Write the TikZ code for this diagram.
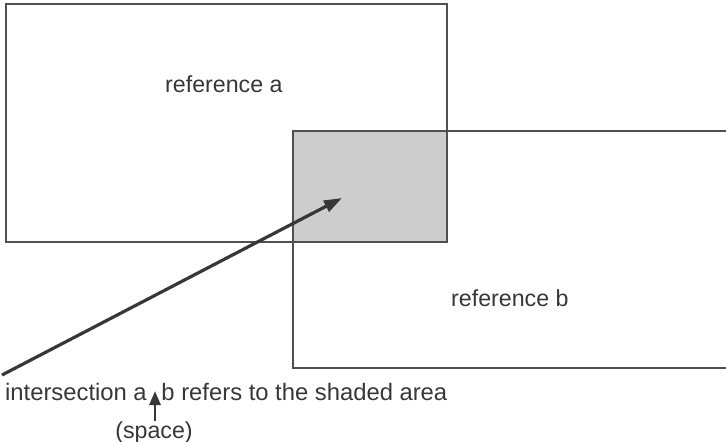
\documentclass[tikz,border=0pt]{standalone}
\usepackage{fontspec}
\setmainfont{Liberation Sans}
\usetikzlibrary{arrows.meta,positioning,calc}
\definecolor{edgegray}{RGB}{80,80,80}
\definecolor{shadegray}{RGB}{205,205,205}
\definecolor{inkgray}{RGB}{55,55,55}
\tikzset{
  setbox/.style={draw=edgegray,line width=1.3pt},
  tagtext/.style={font=\fontsize{23.2}{27}\selectfont,text=inkgray,inner sep=0pt},
  pointer/.style={draw=inkgray,fill=inkgray,line width=3.2pt,-{Triangle[length=18pt,width=12pt]}},
}
\newcommand{\setlabel}[3]{\node[tagtext,anchor=base west] (#1) at (#2) {#3};}

\begin{document}
\begin{tikzpicture}[x=1pt,y=-1pt]
  \useasboundingbox (0,0) rectangle (726,442);
  % shaded intersection
  \fill[shadegray] (293,131) rectangle (447,242);
  % reference a
  \draw[setbox] (6,4) rectangle (447,242);
  % reference b (runs off the right edge)
  \draw[setbox] (727,131) -- (293,131) -- (293,368) -- (727,368);
  \setlabel{refa}{165,92}{reference a}
  \setlabel{refb}{451,306}{reference b}
  \node[tagtext,anchor=base west,font=\fontsize{23.8}{28}\selectfont] (caption) at (5,400)
    {intersection a\hspace{0.62em}b refers to the shaded area};
  \node[tagtext,anchor=base] (space) at (154,438) {(space)};
  \coordinate (tail) at (2,375);
  \coordinate (target) at (342,198);
  \coordinate (gap) at (155,391);
  \draw[pointer] (tail) -- (target);
  \draw[pointer,line width=2.8pt,-{Triangle[length=14pt,width=11pt]}] (space.north -| gap) -- (gap);
\end{tikzpicture}
\end{document}
